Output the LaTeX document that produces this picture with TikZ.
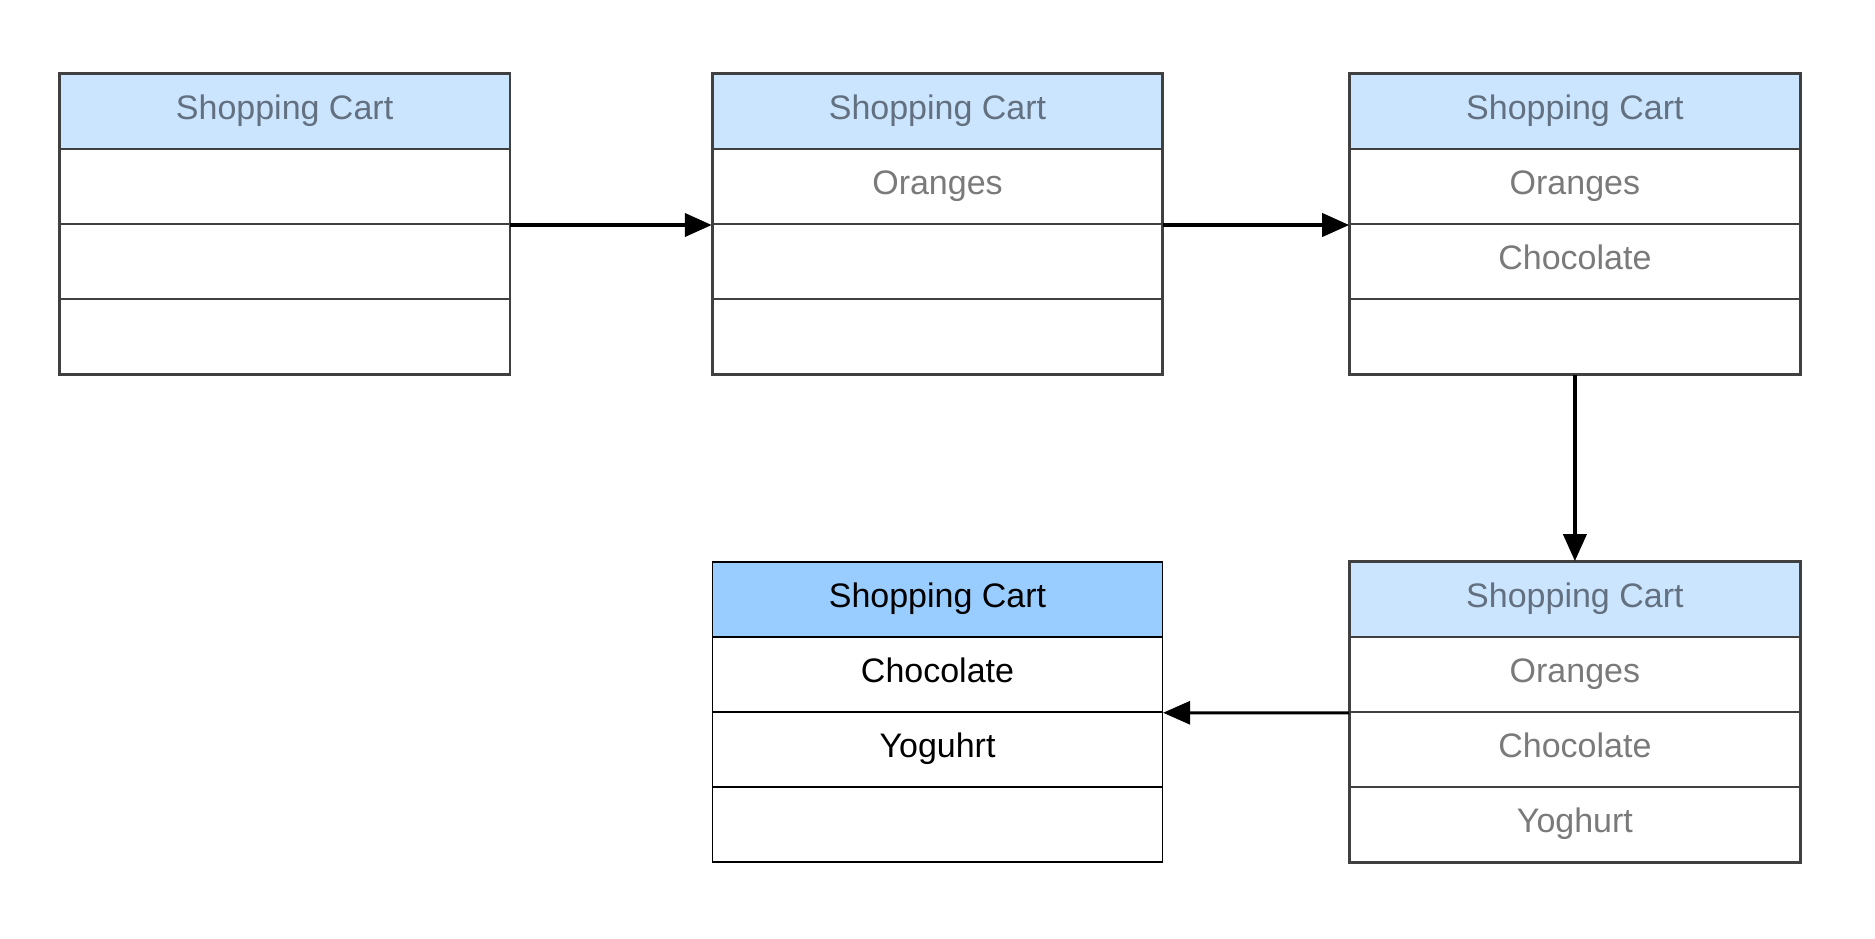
\documentclass[tikz,border=0pt]{standalone}
\usepackage{fontspec}
\setmainfont{Liberation Sans}
\usetikzlibrary{arrows.meta}
\definecolor{hdrpale}{RGB}{204,229,255}
\definecolor{hdrstrong}{RGB}{153,204,255}
\definecolor{fadeline}{RGB}{64,64,64}
\definecolor{fadehdrtext}{RGB}{98,112,128}
\definecolor{fadetext}{RGB}{122,122,122}
\tikzset{
  cell/.style={minimum width=449.6pt, minimum height=75pt, inner sep=0pt, text height=24pt, text depth=8pt, font=\fontsize{34}{40}\selectfont},
  hdrfade/.style={cell, fill=hdrpale, draw=fadeline, line width=1.8pt, text=fadehdrtext},
  rowfade/.style={cell, fill=white, draw=fadeline, line width=1.8pt, text=fadetext},
  hdrfinal/.style={cell, fill=hdrstrong, draw=black, line width=1.5pt, text=black},
  rowfinal/.style={cell, fill=white, draw=black, line width=1.5pt, text=black},
  flow/.style={line width=4pt, -{Triangle[length=27pt,width=23pt]}},
  flowthin/.style={line width=3pt, -{Triangle[length=27pt,width=23pt]}}
}
\newcommand{\cartbox}[7]{%
  \node[hdr#4] (#1h) at (#2,{#3+37.5}) {Shopping Cart};
  \node[row#4] (#1a) at (#2,{#3+112.5}) {#5};
  \node[row#4] (#1b) at (#2,{#3+187.5}) {#6};
  \node[row#4] (#1c) at (#2,{#3+262.5}) {#7};
  \draw[line width=2pt, draw=fadeline] (#1h.north west) rectangle (#1c.south east);
}
\begin{document}
\begin{tikzpicture}[x=1pt,y=-1pt]
\useasboundingbox (0,0) rectangle (1875,938);
\cartbox{A}{284.6}{74.1}{fade}{}{}{}
\cartbox{B}{937.5}{74.1}{fade}{Oranges}{}{}
\cartbox{C}{1574.9}{74.1}{fade}{Oranges}{Chocolate}{}
\cartbox{D}{1574.9}{562}{fade}{Oranges}{Chocolate}{Yoghurt}
\node[hdrfinal] (Eh) at (937.5,{562+37.5}) {Shopping Cart};
\node[rowfinal] (Ea) at (937.5,{562+112.5}) {Chocolate};
\node[rowfinal] (Eb) at (937.5,{562+187.5}) {Yoguhrt};
\node[rowfinal] (Ec) at (937.5,{562+262.5}) {};
\draw[flow] (Aa.south east) -- (Ba.south west);
\draw[flow] (Ba.south east) -- (Ca.south west);
\draw[flow] (Cc.south) -- (Dh.north);
\draw[flowthin] (Da.south west) -- (Ea.south east);
\end{tikzpicture}
\end{document}
